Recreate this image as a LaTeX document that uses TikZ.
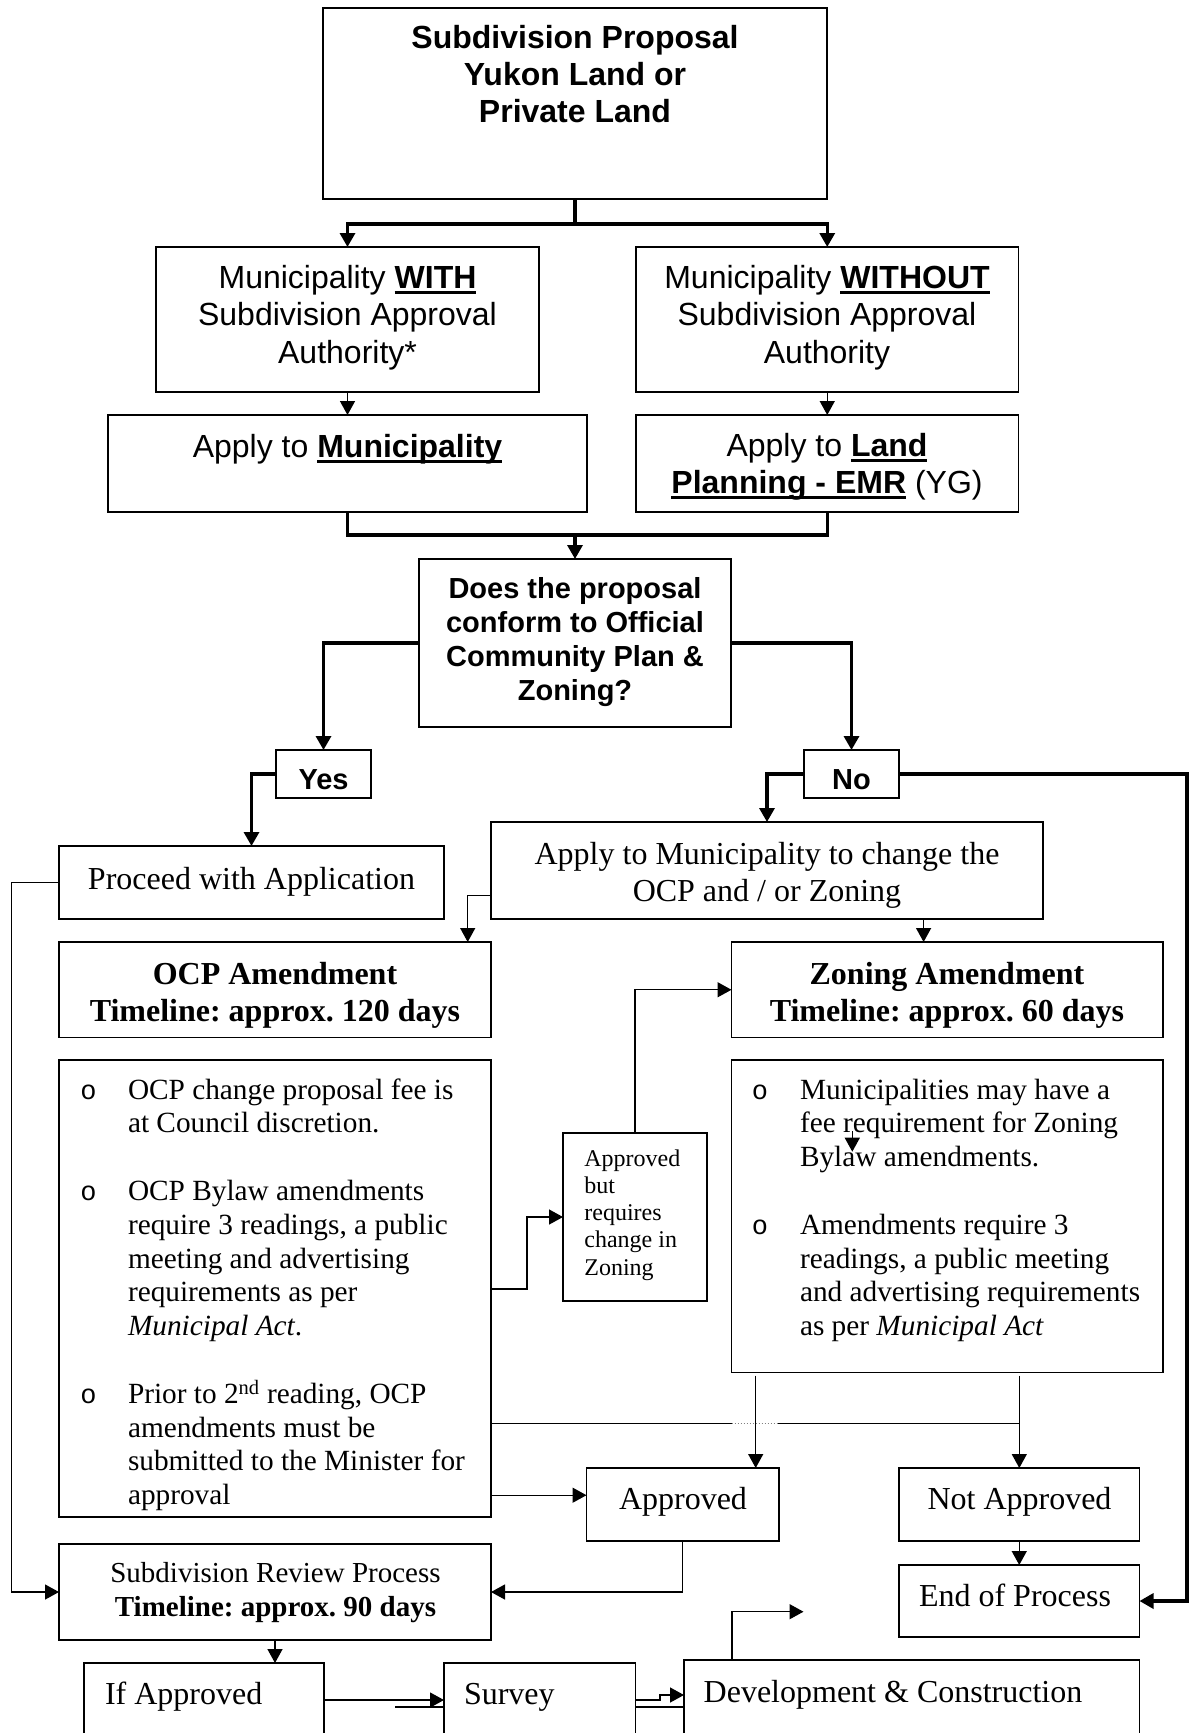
\documentclass[tikz,border=0pt]{standalone}
\usepackage{fontspec}
\setmainfont{Liberation Serif}
\newfontfamily\arialf{Liberation Sans}
\newfontfamily\courf{Liberation Mono}
\usetikzlibrary{arrows.meta}
\frenchspacing
\newcommand\ctr[1]{\vtop{\halign{\hfil##\hfil\cr#1\crcr}}}
\newcommand\lft[1]{\vtop{\halign{##\hfil\cr#1\crcr}}}
\newcommand\ulb[1]{\setbox0\hbox{#1}\rlap{\rule[-5.5pt]{\wd0}{3pt}}\box0\relax}
\newcommand\bxn[5]{\node[bx, minimum width={#4-#2}, minimum height={#5-#3}] (#1) at (#2,#3) {};}
\tikzset{
  bx/.style={draw, line width=1.5pt, inner sep=0pt, outer sep=0pt, anchor=north west},
  tx/.style={inner sep=0pt, outer sep=0pt, anchor=base},
  txl/.style={inner sep=0pt, outer sep=0pt, anchor=base west},
  ln/.style={line width=1.4pt},
  thk/.style={line width=3.3pt},
  arr/.style={-{Triangle[width=15pt,length=14pt]}},
  dotline/.style={line width=1.3pt, gray, dash pattern=on 1.5pt off 1.5pt},
  ar32/.style={font=\arialf\fontsize{32}{37}\selectfont},
  ar32b/.style={font=\arialf\bfseries\fontsize{32}{37}\selectfont},
  ar29b/.style={font=\arialf\bfseries\fontsize{29}{34.3}\selectfont},
  tm32/.style={font=\fontsize{32}{36.5}\selectfont},
  tm32b/.style={font=\bfseries\fontsize{32}{37.5}\selectfont},
  tmd/.style={font=\fontsize{29.3}{33.8}\selectfont},
  tm24/.style={font=\fontsize{24}{27.3}\selectfont},
  tm29/.style={font=\fontsize{29}{34}\selectfont},
  bul/.style={font=\courf\fontsize{27}{27}\selectfont, inner sep=0pt, outer sep=0pt, anchor=base},
}
\begin{document}
\begin{tikzpicture}[x=1pt,y=-1pt]
\useasboundingbox (0,0) rectangle (1191,1733);
\fill[white] (0,0) rectangle (1191,1733);
\clip (0,0) rectangle (1191,1733);
% boxes
\bxn{tops}{323}{8}{827}{199}
\bxn{with}{156}{247}{539}{392}
\bxn{without}{636}{247}{1018.5}{392}
\bxn{applyM}{108}{415}{587}{512}
\bxn{applyL}{636}{415}{1018.5}{512}
\bxn{dec}{419}{559}{731}{727}
\bxn{yes}{276}{750}{371}{798}
\bxn{no}{804}{750}{899}{798}
\bxn{proceed}{59}{846}{444}{919}
\bxn{applyC}{491}{822}{1043}{919}
\bxn{ocp}{59}{942}{491}{1037.5}
\bxn{zon}{731.5}{942}{1163}{1037.5}
\bxn{ocpd}{59}{1060}{491}{1517}
\bxn{zond}{731.5}{1060}{1163}{1372.5}
\bxn{small}{563}{1133}{707}{1301}
\bxn{appr}{586.5}{1468}{779}{1541}
\bxn{notap}{899}{1468}{1139.5}{1541}
\bxn{endp}{899}{1565}{1139.5}{1637}
\bxn{review}{59}{1544}{491}{1640}
\bxn{ifap}{84}{1663}{324}{1745}
\bxn{survey}{444}{1663}{635.5}{1745}
\bxn{dev}{684}{1660}{1139.5}{1745}
% texts
\node[tx, ar32b] (tTop) at (575,48) {\ctr{Subdivision Proposal\cr Yukon Land or\cr Private Land}};
\node[tx, font=\arialf\fontsize{32}{37.5}\selectfont] (tWith) at (347.5,288) {\ctr{Municipality \ulb{\bfseries WITH}\cr Subdivision Approval\cr Authority*}};
\node[tx, font=\arialf\fontsize{32}{37.5}\selectfont] (tWithout) at (827,288) {\ctr{Municipality \ulb{\bfseries WITHOUT}\cr Subdivision Approval\cr Authority}};
\node[tx, ar32] (tApplyM) at (347.5,457) {\ctr{Apply to \ulb{\bfseries Municipality}}};
\node[tx, ar32] (tApplyL) at (827,456) {\ctr{Apply to \ulb{\bfseries Land}\cr \ulb{\bfseries Planning - EMR} (YG)}};
\node[tx, ar29b] (tDec) at (575,598) {\ctr{Does the proposal\cr conform to Official\cr Community Plan \&\cr Zoning?}};
\node[tx, ar29b] (tYes) at (323.5,789.5) {Yes};
\node[tx, ar29b] (tNo) at (851.5,789.5) {No};
\node[tx, tm32] (tProceed) at (251.5,889) {Proceed with Application};
\node[tx, tm32] (tApplyC) at (767,864.5) {\ctr{Apply to Municipality to change the\cr OCP and / or Zoning}};
\node[tx, tm32b] (tOcp) at (275,984) {\ctr{OCP Amendment\cr Timeline: approx. 120 days}};
\node[tx, tm32b] (tZon) at (947,984) {\ctr{Zoning Amendment\cr Timeline: approx. 60 days}};
\node[bul] (b1) at (88.4,1099) {o};
\node[bul] (b2) at (88.4,1200.4) {o};
\node[bul] (b3) at (88.4,1403.2) {o};
\node[bul] (b4) at (760,1099) {o};
\node[bul] (b5) at (760,1234.2) {o};
\node[txl, tmd] (p1) at (128,1099) {\lft{OCP change proposal fee is\cr at Council discretion.}};
\node[txl, tmd] (p2) at (128,1200.4) {\lft{OCP Bylaw amendments\cr require 3 readings, a public\cr meeting and advertising\cr requirements as per\cr \textit{Municipal Act}.}};
\node[txl, tmd] (p3) at (128,1403.2) {\lft{Prior to 2\textsuperscript{nd} reading, OCP\cr amendments must be\cr submitted to the Minister for\cr approval}};
\node[txl, tmd] (p4) at (800,1099) {\lft{Municipalities may have a\cr fee requirement for Zoning\cr Bylaw amendments.}};
\node[txl, tmd] (p5) at (800,1234.2) {\lft{Amendments require 3\cr readings, a public meeting\cr and advertising requirements\cr as per \textit{Municipal Act}}};
\node[txl, tm24] (tSmall) at (584.4,1166) {\lft{Approved\cr but\cr requires\cr change in\cr Zoning}};
\node[tx, tm32] (tAppr) at (683,1509.7) {Approved};
\node[tx, tm32] (tNotap) at (1019.5,1509.7) {Not Approved};
\node[tx, tm32] (tEnd) at (1015,1606) {End of Process};
\node[tx, tm29] (tReview) at (275.5,1582) {\ctr{Subdivision Review Process\cr \textbf{Timeline: approx. 90 days}}};
\node[txl, tm32] (tIf) at (105,1704) {If Approved};
\node[txl, tm32] (tSurvey) at (464,1704) {Survey};
\node[txl, tm32] (tDev) at (703.7,1702) {Development \& Construction};
% connectors
\coordinate (j1) at (575,224);
\draw[thk] (tops.south) -- (j1);
\draw[thk,arr] (j1) -| (with.north);
\draw[thk,arr] (j1) -| (without.north);
\draw[ln,arr] (with.south) -- (applyM.north);
\draw[ln,arr] (without.south) -- (applyL.north);
\coordinate (j2) at (575,535);
\draw[thk] (applyM.south) |- (j2) -| (applyL.south);
\draw[thk,arr] (j2) -- (dec.north);
\draw[thk,arr] (dec.west) -| (yes.north);
\draw[thk,arr] (dec.east) -| (no.north);
\draw[thk,arr] (yes.west) -| (proceed.north);
\draw[thk,arr] (no.west) -| (applyC.north);
\coordinate (r1) at (1187,774);
\draw[thk,arr] (no.east) -- (r1) |- (endp.east);
\coordinate (l1) at (11.4,882.5);
\draw[ln,arr] (proceed.west) -- (l1) |- (review.west);
\coordinate (c10) at (467.7,895.3);
\draw[ln,arr] (applyC.west |- c10) -- (c10) -- (c10 |- ocp.north);
\coordinate (c11) at (923.6,930);
\draw[ln,arr] (c11 |- applyC.south) -- (c11 |- zon.north);
\draw[ln,arr] (small.north) |- (zon.west);
\coordinate (c13) at (527,1288.8);
\draw[ln,arr] (ocpd.east |- c13) -- (c13) |- (small.west);
\coordinate (c14a) at (731.7,1423.3);
\coordinate (c14b) at (778.3,1423.3);
\coordinate (c14c) at (1019.3,1423.3);
\draw[ln] (ocpd.east |- c14a) -- (c14a);
\draw[dotline] (c14a) -- (c14b);
\draw[ln] (c14b) -- (c14c);
\coordinate (c15) at (755.7,1375.5);
\draw[ln,arr] (c15) -- (c15 |- appr.north);
\coordinate (c16) at (1019.3,1375.5);
\draw[ln,arr] (c16) -- (c16 |- notap.north);
\coordinate (c17) at (500,1495.2);
\draw[ln,arr] (ocpd.east |- c17) -- (appr.west |- c17);
\draw[ln,arr] (appr.south) |- (review.east);
\draw[ln,arr] (notap.south) -- (endp.north);
\draw[ln,arr] (review.south) -- (review.south |- ifap.north);
\coordinate (c21) at (400,1700);
\draw[ln,arr] (ifap.east |- c21) -- (survey.west |- c21);
\coordinate (c21b) at (395,1707);
\draw[ln] (c21b) -- (survey.west |- c21b);
\coordinate (c22) at (660,1700);
\coordinate (c22b) at (660,1695);
\draw[ln,arr] (survey.east |- c22) -- (c22) -- (c22b) -- (dev.west |- c22b);
\coordinate (c22c) at (660,1707);
\draw[ln] (survey.east |- c22c) -- (dev.west |- c22c);
\coordinate (c23) at (731.9,1611.7);
\coordinate (c23e) at (803.5,1611.7);
\draw[ln,arr] (c23 |- dev.north) -- (c23) -- (c23e);
\coordinate (s1) at (852.3,1131);
\coordinate (s2) at (852.3,1151.7);
\draw[ln,arr] (s1) -- (s2);
\end{tikzpicture}
\end{document}
